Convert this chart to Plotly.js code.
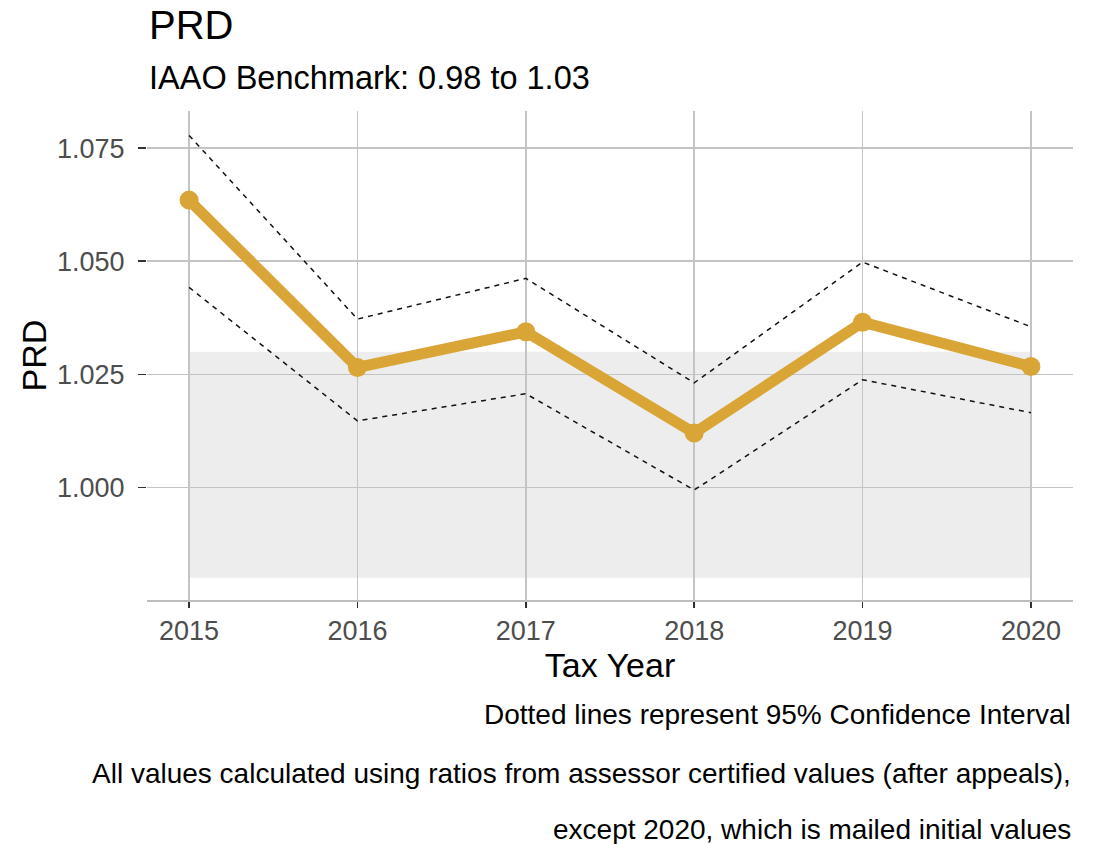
<!DOCTYPE html>
<html>
<head>
<meta charset="utf-8">
<script src="https://cdn.plot.ly/plotly-3.0.1.min.js"></script>
<style>html,body{margin:0;padding:0;background:#fff;}#chart{width:1094px;height:844px;}</style>
</head>
<body>
<div id="chart"></div>
<script>
// Data
const years = [2015, 2016, 2017, 2018, 2019, 2020];
const prd = [1.0635, 1.0265, 1.0344, 1.0120, 1.0365, 1.0267];
const ciUpper = [1.0778, 1.0372, 1.0462, 1.0231, 1.0498, 1.0355];
const ciLower = [1.0442, 1.0147, 1.0207, 0.9994, 1.0238, 1.0165];
const benchLow = 0.98;
const benchHigh = 1.03;
const yTicks = [1.000, 1.025, 1.050, 1.075];
const yTickLabels = ['1.000', '1.025', '1.050', '1.075'];

const FONT = 'Liberation Sans, Arial, sans-serif';
const gold = '#D9A537';

const traces = [
  {x: years, y: ciUpper, mode: 'lines', line: {color: '#111', width: 1.5, dash: '5px,5px'}, hoverinfo: 'skip', showlegend: false},
  {x: years, y: ciLower, mode: 'lines', line: {color: '#111', width: 1.5, dash: '5px,5px'}, hoverinfo: 'skip', showlegend: false},
  {x: years, y: prd, mode: 'lines+markers', line: {color: gold, width: 11}, marker: {color: gold, size: 19}, showlegend: false}
];

const layout = {
  width: 1094, height: 844,
  margin: {l: 147, r: 21, t: 111, b: 244},
  paper_bgcolor: '#fff', plot_bgcolor: '#fff',
  font: {family: FONT, color: '#000'},
  showlegend: false,
  xaxis: {
    range: [years[0] - 0.25, years[years.length - 1] + 0.25],
    tickvals: years, ticktext: years.map(String),
    tickfont: {size: 27, color: '#4D4D4D', family: FONT},
    ticks: 'outside', ticklen: 6, tickwidth: 1.5, tickcolor: '#333',
    showgrid: true, gridcolor: '#C4C4C4', gridwidth: 1.5,
    showline: true, linecolor: '#BDBDBD', linewidth: 1.5,
    zeroline: false, ticklabelstandoff: 0,
    title: {text: 'Tax Year', font: {size: 34, color: '#000', family: FONT}, standoff: 4}
  },
  yaxis: {
    range: [0.9751, 1.0832],
    tickvals: yTicks, ticktext: yTickLabels,
    tickfont: {size: 27, color: '#4D4D4D', family: FONT},
    ticks: 'outside', ticklen: 8, tickwidth: 1.5, tickcolor: '#333',
    showgrid: true, gridcolor: '#C4C4C4', gridwidth: 1.5,
    showline: false, zeroline: false, ticklabelstandoff: 8,
    title: {text: 'PRD', font: {size: 34, color: '#000', family: FONT}, standoff: 0}
  },
  shapes: [
    {type: 'rect', xref: 'x', yref: 'y', x0: years[0], x1: years[years.length - 1], y0: benchLow, y1: benchHigh,
     fillcolor: '#EDEDED', line: {width: 0}, layer: 'below'}
  ],
  annotations: [
    {text: 'PRD', xref: 'paper', yref: 'paper', x: 0, y: 1.176, xanchor: 'left', yanchor: 'middle', showarrow: false,
     font: {size: 40, color: '#000', family: FONT}},
    {text: 'IAAO Benchmark: 0.98 to 1.03', xref: 'paper', yref: 'paper', x: 0, y: 1.067, xanchor: 'left', yanchor: 'middle', showarrow: false,
     font: {size: 32.5, color: '#000', family: FONT}},
    {text: 'Dotted lines represent 95% Confidence Interval', xref: 'paper', yref: 'paper', x: 1, y: -0.235, xanchor: 'right', yanchor: 'middle', showarrow: false,
     font: {size: 28, color: '#000', family: FONT}},
    {text: 'All values calculated using ratios from assessor certified values (after appeals),', xref: 'paper', yref: 'paper', x: 1, y: -0.354, xanchor: 'right', yanchor: 'middle', showarrow: false,
     font: {size: 28, color: '#000', family: FONT}},
    {text: 'except 2020, which is mailed initial values', xref: 'paper', yref: 'paper', x: 1, y: -0.470, xanchor: 'right', yanchor: 'middle', showarrow: false,
     font: {size: 28, color: '#000', family: FONT}}
  ]
};

Plotly.newPlot('chart', traces, layout, {displayModeBar: false, staticPlot: true});
</script>
</body>
</html>
